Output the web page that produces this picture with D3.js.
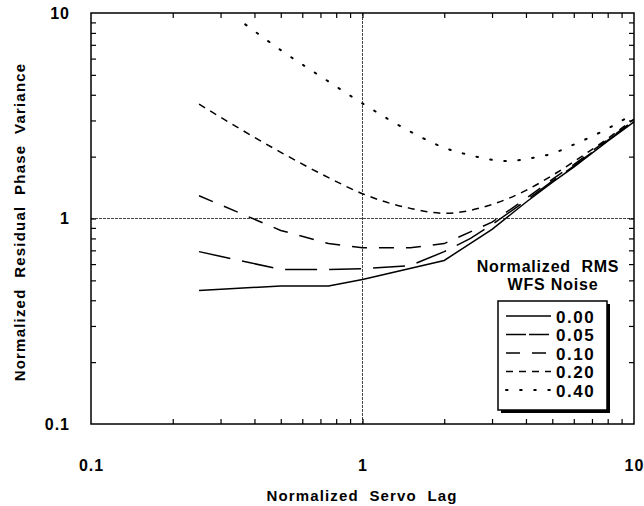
<!DOCTYPE html>
<html>
<head>
<meta charset="utf-8">
<script src="https://cdn.jsdelivr.net/npm/d3@7"></script>
<style>
  body { margin: 0; background: #fff; }
  svg { font-family: "Liberation Sans", Arial, sans-serif; font-weight: bold; }
</style>
</head>
<body>
<svg width="644" height="506"></svg>
<script>
// values (log-log axes)
const decades = [0.1, 1, 10]
const noiseLevels = ['0.00', '0.05', '0.10', '0.20', '0.40']

const lag00 = [0.25, 0.5, 0.75, 1, 2, 3, 4, 5, 6, 8, 10]
const var00 = [0.446, 0.47, 0.47, 0.505, 0.625, 0.885, 1.2, 1.5, 1.78, 2.38, 2.95]

const lag05 = [0.25, 0.5, 0.75, 1, 1.5, 2, 2.5, 3, 4, 5, 6, 8, 10]
const var05 = [0.69, 0.565, 0.565, 0.57, 0.59, 0.69, 0.8, 0.935, 1.22, 1.52, 1.8, 2.4, 2.97]

const lag10 = [0.25, 0.5, 0.75, 1, 1.5, 2, 3, 4, 5, 6, 8, 10]
const var10 = [1.29, 0.875, 0.755, 0.72, 0.72, 0.755, 0.96, 1.25, 1.55, 1.83, 2.42, 3.0]

const lag20 = [0.25, 0.5, 0.75, 1, 1.5, 2, 3, 4, 5, 6, 8, 10]
const var20 = [3.6, 2.1, 1.58, 1.32, 1.12, 1.06, 1.17, 1.37, 1.62, 1.89, 2.45, 3.05]

const lag40 = [0.37, 0.5, 0.75, 1, 1.5, 2, 2.5, 3, 3.5, 4, 5, 6, 8, 10]
const var40 = [8.8, 6.6, 4.64, 3.63, 2.65, 2.21, 2.03, 1.93, 1.9, 1.95, 2.07, 2.29, 2.74, 3.24]

const dashes = [null, '32,12', '15,12', '7,6', '1.6,12.5']

const svg = d3.select('svg')
const margin = {top: 13, right: 10, bottom: 82, left: 91}
const width = 634 - margin.left
const height = 424 - margin.top

const x = d3.scaleLog().domain([0.1, 10]).range([0, width])
const y = d3.scaleLog().domain([0.1, 10]).range([height, 0])

const g = svg.append('g')
  .attr('transform', 'translate(' + margin.left + ',' + margin.top + ')')

// grid lines at 1
g.append('line')
  .attr('x1', x(1)).attr('x2', x(1)).attr('y1', 0).attr('y2', height)
  .attr('stroke', '#444').attr('stroke-width', 1).attr('stroke-dasharray', '3,1')
g.append('line')
  .attr('x1', 0).attr('x2', width).attr('y1', y(1)).attr('y2', y(1))
  .attr('stroke', '#444').attr('stroke-width', 1).attr('stroke-dasharray', '3,1')

// inward ticks on all four sides
const minor = x.ticks().filter(v => v > 0.1 && v < 10)
const tickAxes = [
  [d3.axisBottom(x), 'translate(0,' + height + ')'],
  [d3.axisTop(x), 'translate(0,0)'],
  [d3.axisLeft(y), 'translate(0,0)'],
  [d3.axisRight(y), 'translate(' + width + ',0)']
]
tickAxes.forEach(([axis, tr]) => {
  const a = g.append('g').attr('transform', tr)
    .call(axis.tickValues(minor).tickSize(-5).tickFormat(''))
  a.select('.domain').remove()
  a.selectAll('line').attr('stroke', '#000').attr('stroke-width', 1.2)
})

// frame
g.append('rect')
  .attr('width', width).attr('height', height)
  .attr('fill', 'none').attr('stroke', '#000').attr('stroke-width', 1.5)

// tick labels
const xl = g.append('g').attr('transform', 'translate(0,' + height + ')')
  .call(d3.axisBottom(x).tickValues(decades).tickSize(0).tickPadding(36)
    .tickFormat(d3.format('~g')))
xl.select('.domain').remove()
xl.selectAll('text').attr('font-size', 16).attr('letter-spacing', 1)
  .attr('font-family', null).attr('fill', '#000')

const yl = g.append('g')
  .call(d3.axisLeft(y).tickValues(decades).tickSize(0).tickPadding(21)
    .tickFormat(d3.format('~g')))
yl.select('.domain').remove()
yl.selectAll('text').attr('font-size', 16).attr('letter-spacing', 1)
  .attr('font-family', null).attr('fill', '#000')

// axis titles
svg.append('text')
  .attr('x', 362).attr('y', 501)
  .attr('text-anchor', 'middle').attr('font-size', 15).attr('letter-spacing', 1.15)
  .attr('xml:space', 'preserve')
  .text('Normalized  Servo  Lag')

svg.append('text')
  .attr('transform', 'translate(25,222) rotate(-90)')
  .attr('text-anchor', 'middle').attr('font-size', 15).attr('letter-spacing', 1.2)
  .attr('xml:space', 'preserve')
  .text('Normalized  Residual  Phase  Variance')

// curves
const series = [
  [lag00, var00], [lag05, var05], [lag10, var10], [lag20, var20], [lag40, var40]
]
const line = d3.line()
  .x(d => x(d[0]))
  .y(d => y(d[1]))

series.forEach(([lags, vars], i) => {
  const pts = lags.map((l, j) => [l, vars[j]])
  g.append('path')
    .datum(pts)
    .attr('fill', 'none')
    .attr('stroke', '#000')
    .attr('stroke-width', i === 4 ? 2 : 1.5)
    .attr('stroke-linecap', i === 4 ? 'round' : 'butt')
    .attr('stroke-dasharray', dashes[i])
    .attr('d', line.curve(i >= 3 ? d3.curveMonotoneX : d3.curveLinear))
})

// legend
const legend = svg.append('g')
legend.append('text')
  .attr('x', 548).attr('y', 272).attr('text-anchor', 'middle')
  .attr('font-size', 16).attr('letter-spacing', 0.8).attr('xml:space', 'preserve')
  .text('Normalized  RMS')
legend.append('text')
  .attr('x', 553).attr('y', 290).attr('text-anchor', 'middle')
  .attr('font-size', 16).attr('letter-spacing', 0.8)
  .text('WFS Noise')

legend.append('rect')
  .attr('x', 501).attr('y', 304).attr('width', 109).attr('height', 109)
  .attr('fill', '#000')
legend.append('rect')
  .attr('x', 498).attr('y', 301).attr('width', 109).attr('height', 109)
  .attr('fill', '#fff').attr('stroke', '#000').attr('stroke-width', 1.5)

const ly = d3.scalePoint().domain(noiseLevels).range([316, 390])
noiseLevels.forEach((lev, i) => {
  legend.append('line')
    .attr('x1', 506).attr('x2', 551)
    .attr('y1', ly(lev)).attr('y2', ly(lev))
    .attr('stroke', '#000')
    .attr('stroke-width', i === 4 ? 2 : 1.5)
    .attr('stroke-linecap', i === 4 ? 'round' : 'butt')
    .attr('stroke-dasharray', i === 1 ? '20,3' : i === 2 ? '14,12' : dashes[i])
  legend.append('text')
    .attr('x', 556).attr('y', ly(lev) + 6.5)
    .attr('font-size', 17).attr('letter-spacing', 1.5)
    .text(lev)
})
</script>
</body>
</html>
